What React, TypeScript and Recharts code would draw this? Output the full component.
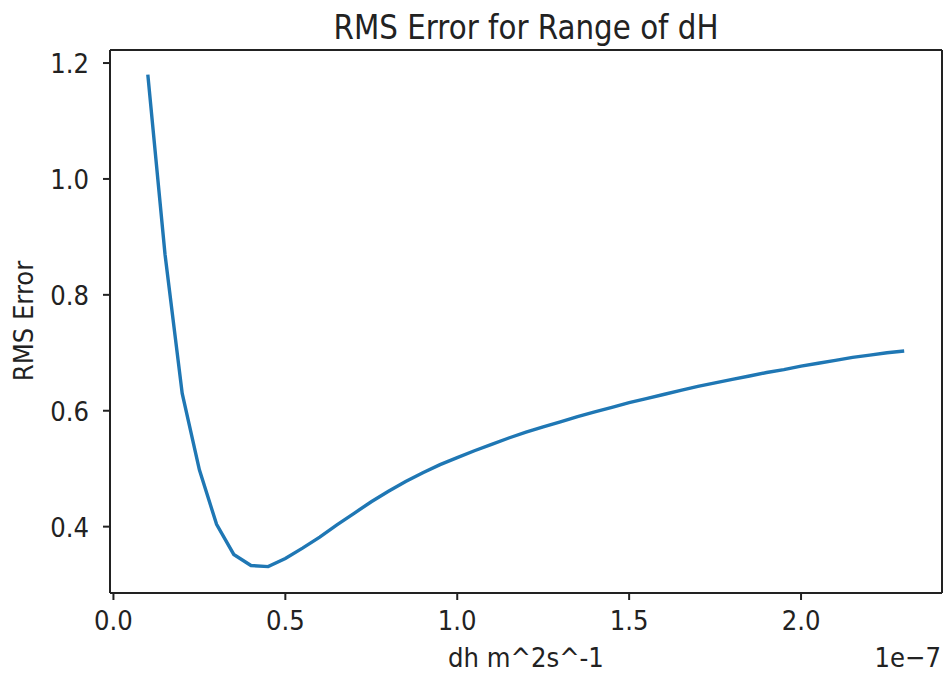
import { LineChart, Line, XAxis, YAxis } from 'recharts'

// dh values (units of 1e-7 m^2 s^-1) and the RMS error
const dh = [
  0.1, 0.15, 0.2, 0.25, 0.3, 0.35, 0.4, 0.45, 0.5, 0.55,
  0.6, 0.65, 0.7, 0.75, 0.8, 0.85, 0.9, 0.95, 1.0, 1.05,
  1.1, 1.15, 1.2, 1.25, 1.3, 1.35, 1.4, 1.45, 1.5, 1.55,
  1.6, 1.65, 1.7, 1.75, 1.8, 1.85, 1.9, 1.95, 2.0, 2.05,
  2.1, 2.15, 2.2, 2.25, 2.3,
]
const rms = [
  1.18, 0.87, 0.63, 0.498, 0.404, 0.352, 0.333, 0.331, 0.345, 0.363,
  0.382, 0.403, 0.423, 0.443, 0.461, 0.478, 0.493, 0.507, 0.519, 0.531,
  0.542, 0.553, 0.563, 0.572, 0.581, 0.59, 0.598, 0.606, 0.614, 0.621,
  0.628, 0.635, 0.642, 0.648, 0.654, 0.66, 0.666, 0.671, 0.677, 0.682,
  0.687, 0.692, 0.696, 0.7, 0.703,
]
const xTicks = [0, 0.5, 1.0, 1.5, 2.0]
const yTicks = [0.4, 0.6, 0.8, 1.0, 1.2]
const xDomain = [-0.01, 2.41]
const yDomain = [0.2855, 1.2225]

const data = dh.map((x, i) => ({ dh: x, rms: rms[i] }))

const FONT = 'DejaVu Sans, sans-serif'
const SQUEEZE = 0.89 // the reference glyphs are a bit narrower than stock DejaVu
const INK = '#222'

function Txt({ x, y, size, anchor = 'middle', rotate = 0, children }: any) {
  return (
    <g transform={`translate(${x},${y}) rotate(${rotate})`}>
      <text transform={`scale(${SQUEEZE},1)`} fontFamily={FONT} fontSize={size} fill={INK} textAnchor={anchor}>
        {children}
      </text>
    </g>
  )
}

const XTick = ({ x, y, payload }: any) => (
  <Txt x={x} y={y + 26} size={27.4}>{payload.value.toFixed(1)}</Txt>
)
const YTick = ({ x, y, payload }: any) => (
  <Txt x={x} y={y + 10} size={27.4} anchor="end">{payload.value.toFixed(1)}</Txt>
)

export default function App() {
  return (
    <div style={{ position: 'absolute', left: 0, top: 0, background: '#fff' }}>
      <LineChart width={943} height={673} data={data} margin={{ top: 49, right: 0, bottom: 40, left: 0 }}>
        <XAxis
          dataKey="dh" type="number" domain={xDomain} ticks={xTicks} allowDataOverflow
          height={40} tickSize={7} tickMargin={4} tick={<XTick />}
          axisLine={{ stroke: INK, strokeWidth: 2 }} tickLine={{ stroke: INK, strokeWidth: 2 }}
        />
        <XAxis
          xAxisId="top" orientation="top" dataKey="dh" type="number" domain={xDomain} height={1}
          tick={false} tickLine={false} axisLine={{ stroke: INK, strokeWidth: 2 }}
        />
        <YAxis
          type="number" domain={yDomain} ticks={yTicks} allowDataOverflow
          width={110} tickSize={7} tickMargin={14} tick={<YTick />}
          axisLine={{ stroke: INK, strokeWidth: 2 }} tickLine={{ stroke: INK, strokeWidth: 2 }}
        />
        <YAxis
          yAxisId="right" orientation="right" type="number" domain={yDomain} width={1}
          tick={false} tickLine={false} axisLine={{ stroke: INK, strokeWidth: 2 }}
        />
        <Line
          dataKey="rms" type="linear" stroke="#1f77b4" strokeWidth={3.4}
          dot={false} activeDot={false} isAnimationActive={false}
        />
        <Txt x={526} y={39} size={33}>RMS Error for Range of dH</Txt>
        <Txt x={526} y={667} size={27.4}>dh m^2s^-1</Txt>
        <Txt x={941} y={667} size={27.4} anchor="end">1e−7</Txt>
        <Txt x={33} y={321} size={27.4} rotate={-90}>RMS Error</Txt>
      </LineChart>
    </div>
  )
}
